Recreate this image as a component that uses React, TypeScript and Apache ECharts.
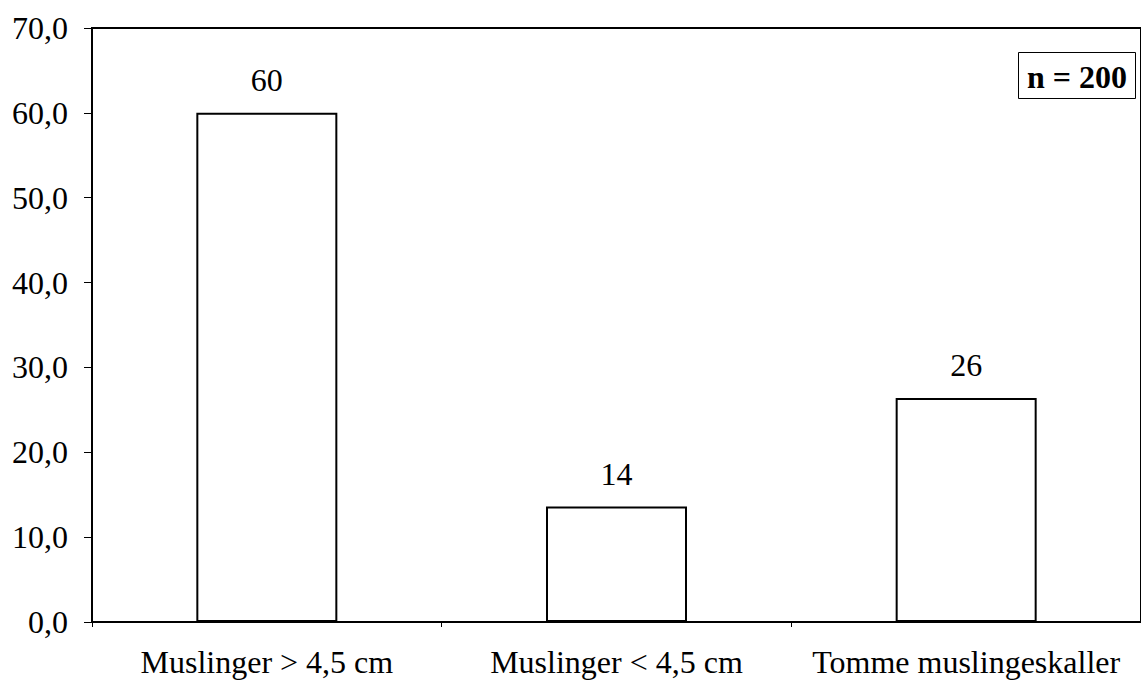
import React, { useEffect, useRef } from "react";
import * as echarts from "echarts";

const categories = ["Muslinger > 4,5 cm", "Muslinger < 4,5 cm", "Tomme muslingeskaller"];
const values = [60, 13.6, 26.4];
const yTicks = { min: 0, max: 70, interval: 10 };
const sampleNote = "n = 200";

const FONT = "Liberation Serif";

export default function App() {
  const ref = useRef<HTMLDivElement>(null);
  useEffect(() => {
    const chart = echarts.init(ref.current!, null, { renderer: "svg" });
    chart.setOption({
      animation: false,
      backgroundColor: "#ffffff",
      textStyle: { fontFamily: FONT },
      grid: {
        left: 92,
        top: 28,
        right: -6,
        bottom: 64,
        show: true,
        borderColor: "#000",
        borderWidth: 2,
        backgroundColor: "transparent",
      },
      xAxis: {
        type: "category",
        data: categories,
        axisLine: { lineStyle: { color: "#000", width: 2 } },
        axisTick: { show: true, alignWithLabel: false, length: 5, lineStyle: { color: "#000", width: 1 } },
        axisLabel: { color: "#000", fontFamily: FONT, fontSize: 32, margin: 24, interval: 0 },
        splitLine: { show: false },
      },
      yAxis: {
        type: "value",
        min: yTicks.min,
        max: yTicks.max,
        interval: yTicks.interval,
        axisLine: { show: true, lineStyle: { color: "#000", width: 2 } },
        axisTick: { show: true, length: 8, lineStyle: { color: "#000", width: 1 } },
        axisLabel: {
          color: "#000",
          fontFamily: FONT,
          fontSize: 32,
          margin: 24,
          formatter: (v: number) => v.toFixed(1).replace(".", ","),
        },
        splitLine: { show: false },
      },
      series: [
        {
          type: "bar",
          data: values,
          barWidth: 141,
          itemStyle: { color: "#fff", borderColor: "#000", borderWidth: 2 },
          label: {
            show: true,
            position: "top",
            distance: 17,
            color: "#000",
            fontFamily: FONT,
            fontSize: 32,
            formatter: (p: any) => String(Math.round(p.value)),
          },
        },
      ],
      graphic: [
        {
          type: "group",
          left: 1018,
          top: 52,
          children: [
            {
              type: "rect",
              shape: { x: 0, y: 0, width: 117, height: 46 },
              style: { fill: "#fff", stroke: "#000", lineWidth: 1 },
            },
            {
              type: "text",
              x: 58.5,
              y: 24,
              style: {
                text: sampleNote,
                font: `bold 32px ${FONT}`,
                fill: "#000",
                textAlign: "center",
                textVerticalAlign: "middle",
              },
            },
          ],
        },
      ],
    });
    return () => chart.dispose();
  }, []);
  return <div ref={ref} style={{ position: "fixed", left: 0, top: 0, width: 1141, height: 686 }} />;
}
